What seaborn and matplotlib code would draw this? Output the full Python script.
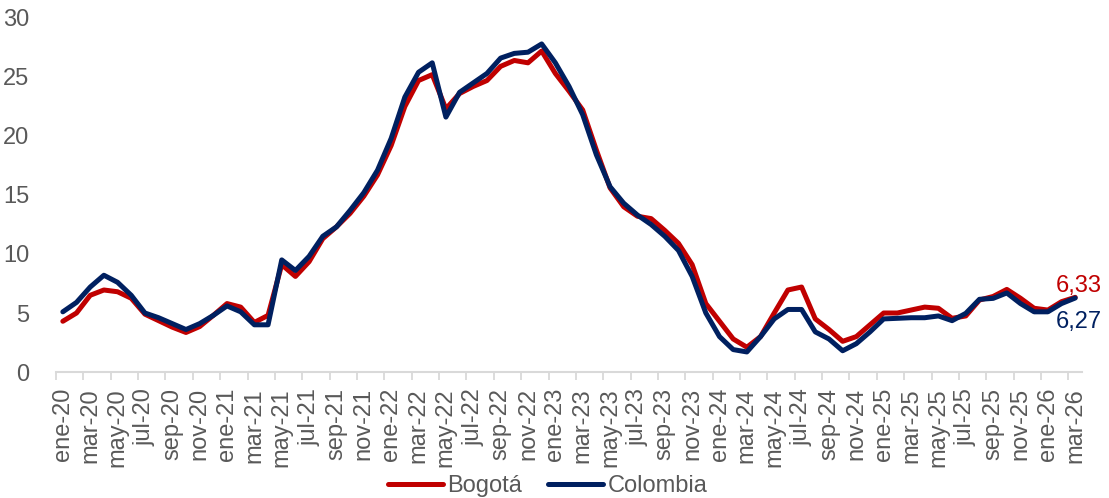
import numpy as np
import pandas as pd
import matplotlib.pyplot as plt
import seaborn as sns

# Meses: ene-20 a mar-26
meses_nombre = ['ene', 'feb', 'mar', 'abr', 'may', 'jun',
                'jul', 'ago', 'sep', 'oct', 'nov', 'dic']
anios = ['20', '21', '22', '23', '24', '25', '26']
meses = [m + '-' + a for a in anios for m in meses_nombre][:75]

bogota = [4.3, 5.0, 6.5, 6.95, 6.8, 6.25, 4.9, 4.35, 3.8, 3.35, 3.85, 4.8,
          5.8, 5.5, 4.2, 4.8, 9.1, 8.1, 9.35, 11.3, 12.3, 13.45, 14.9, 16.7,
          19.2, 22.5, 24.7, 25.2, 22.3, 23.6, 24.2, 24.7, 25.9, 26.4, 26.2, 27.2,
          25.3, 23.8, 22.2, 18.8, 15.6, 14.0, 13.2, 13.0, 12.0, 10.9, 9.1, 5.8,
          4.3, 2.8, 2.1, 3.0, 5.0, 6.95, 7.2, 4.5, 3.6, 2.6, 3.0, 4.0,
          5.0, 5.0, 5.25, 5.5, 5.4, 4.55, 4.75, 6.1, 6.4, 7.0, 6.25, 5.4,
          5.25, 5.96, 6.33]

colombia = [5.1, 5.9, 7.2, 8.2, 7.6, 6.5, 5.0, 4.6, 4.1, 3.6, 4.1, 4.8,
            5.6, 5.1, 4.0, 4.0, 9.5, 8.6, 9.8, 11.5, 12.3, 13.7, 15.2, 17.1,
            19.8, 23.3, 25.4, 26.2, 21.6, 23.7, 24.5, 25.3, 26.6, 27.0, 27.1, 27.8,
            26.2, 24.2, 21.8, 18.4, 15.7, 14.3, 13.3, 12.5, 11.5, 10.3, 8.1, 5.0,
            3.0, 1.9, 1.7, 3.0, 4.5, 5.3, 5.3, 3.4, 2.8, 1.8, 2.4, 3.4,
            4.5, 4.55, 4.6, 4.6, 4.75, 4.35, 4.97, 6.16, 6.24, 6.7, 5.8, 5.1,
            5.1, 5.8, 6.27]

# Dataframe en formato largo
df = pd.DataFrame({'pos': list(range(len(meses))) * 2,
                   'valor': bogota + colombia,
                   'serie': ['Bogotá'] * len(bogota) + ['Colombia'] * len(colombia)})

rojo = '#C00000'
azul = '#002060'
gris = '#595959'

sns.set_theme(style='white')
plt.rcParams['font.family'] = ['Liberation Sans', 'DejaVu Sans']

fig, ax = plt.subplots(figsize=(11.09, 4.98), dpi=100)
fig.subplots_adjust(left=0.0505, right=0.9757, bottom=0.253, top=0.9639)

sns.lineplot(data=df, x='pos', y='valor', hue='serie',
             palette={'Bogotá': rojo, 'Colombia': azul},
             linewidth=3.6, ax=ax, legend=False)
for ln in ax.lines:
    ln.set_solid_joinstyle('round')
    ln.set_solid_capstyle('round')

# Ejes
ax.set_xlim(-0.5, len(meses) - 0.5)
ax.set_ylim(0, 30)
ax.set_xlabel('')
ax.set_ylabel('')
for s in ['left', 'right', 'top']:
    ax.spines[s].set_visible(False)
ax.spines['bottom'].set_color('#D9D9D9')
ax.spines['bottom'].set_linewidth(1.5)

ax.set_yticks(range(0, 31, 5))
ax.tick_params(axis='y', length=0, pad=19, labelsize=17, labelcolor=gris)

pos = np.arange(len(meses))
ax.set_xticks(pos[::2])
ax.set_xticklabels(meses[::2], rotation=90)
ax.set_xticks(np.arange(-0.5, len(meses) - 1, 2), minor=True)
ax.tick_params(axis='x', which='major', length=0, pad=11.5, labelsize=17, labelcolor=gris)
ax.tick_params(axis='x', which='minor', length=6, width=1.3, color='#D9D9D9', bottom=True)

# Etiquetas del último dato
ult = len(meses) - 1
ax.annotate('6,33', xy=(ult, bogota[-1]), xytext=(-19, 5), textcoords='offset pixels',
            ha='left', va='baseline', fontsize=17, color=rojo)
ax.annotate('6,27', xy=(ult, colombia[-1]), xytext=(-19, -30), textcoords='offset pixels',
            ha='left', va='baseline', fontsize=17, color=azul)

# Leyenda
handles = [plt.Line2D([], [], color=rojo, linewidth=3.6, solid_capstyle='round'),
           plt.Line2D([], [], color=azul, linewidth=3.6, solid_capstyle='round')]
leg = fig.legend(handles, ['Bogotá', 'Colombia'], loc='center', bbox_to_anchor=(0.494, 0.024),
                 ncol=2, frameon=False, fontsize=17, handlelength=2.3, handletextpad=0.2,
                 columnspacing=1.1, borderpad=0)
for t in leg.get_texts():
    t.set_color(gris)

fig.savefig('out.png', dpi=100)
